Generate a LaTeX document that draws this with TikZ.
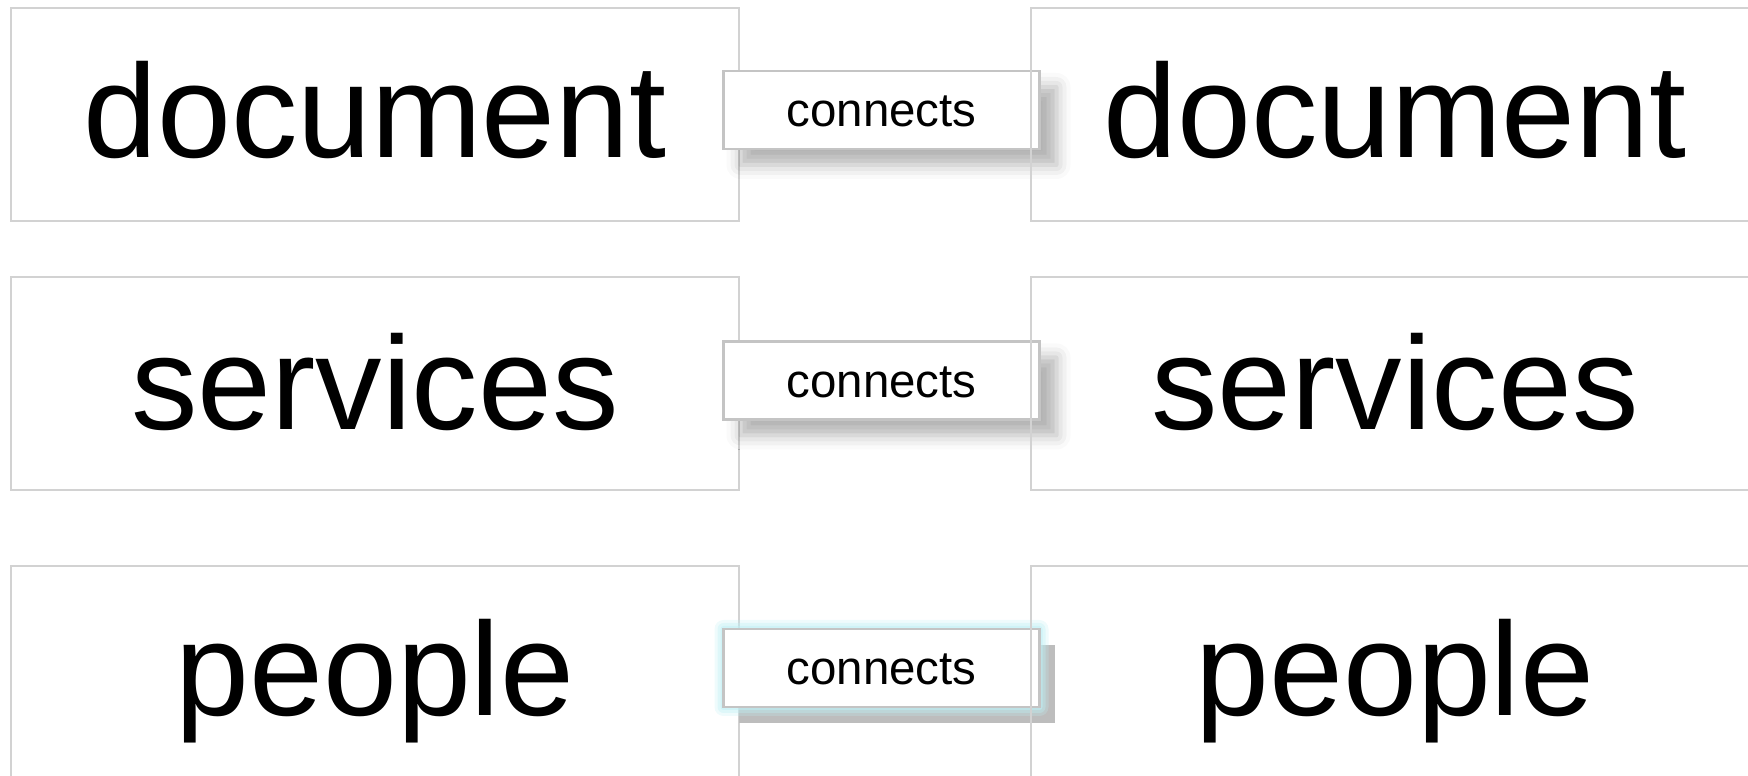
\documentclass[tikz,border=0pt]{standalone}
\usepackage{fontspec}
\setmainfont{Liberation Sans}
\usetikzlibrary{positioning, calc, shadows.blur}
\definecolor{boxline}{HTML}{D2D2D2}
\definecolor{tagline}{HTML}{C4C4C4}
\definecolor{tagshade}{HTML}{BDBDBD}
\definecolor{tagglow}{HTML}{BFEFF4}

\begin{document}
\begin{tikzpicture}[
    term/.style={draw=boxline, line width=0.6pt, minimum width=7.28cm, minimum height=2.13cm,
                 inner sep=0pt, text height=1cm, text depth=0.13cm, font=\fontsize{37.8}{40}\selectfont},
    tag/.style={draw=tagline, line width=0.6pt, fill=white, minimum width=3.16cm, minimum height=0.78cm,
                inner sep=0pt, text height=0.37cm, text depth=0.03cm, font=\fontsize{13.5}{15}\selectfont},
    soft/.style={blur shadow={shadow xshift=0.17cm, shadow yshift=-0.16cm,
                 shadow blur radius=0.14cm, shadow opacity=30}}]
    \useasboundingbox (0,0) rectangle (17.48,7.76);
    % left column
    \node[term] (docL) at (3.75,6.615) {document};
    \node[term, text depth=0.08cm] (srvL) at (3.75,3.925) {services};
    \node[term] (pplL) at (3.75,1.035) {people};
    % links
    \node[tag, soft] (docC) at (8.815,6.66) {connects};
    \node[tag, soft] (srvC) at (8.815,3.955) {connects};
    \fill[tagshade] ($(8.815,1.08)+(-1.43,-0.55)$) rectangle ++(3.16,0.78);
    \foreach \g/\o in {0.09/0.25, 0.06/0.35, 0.03/0.5}
      \fill[tagglow, opacity=\o, rounded corners=\g cm]
        ($(8.815,1.08)+(-1.58-\g,-0.39-\g)$) rectangle ($(8.815,1.08)+(1.58+\g,0.39+\g)$);
    \node[tag] (pplC) at (8.815,1.08) {connects};
    % right column
    \node[term] (docR) at (13.95,6.615) {document};
    \node[term, text depth=0.08cm] (srvR) at (13.95,3.925) {services};
    \node[term] (pplR) at (13.95,1.035) {people};
\end{tikzpicture}
\end{document}
